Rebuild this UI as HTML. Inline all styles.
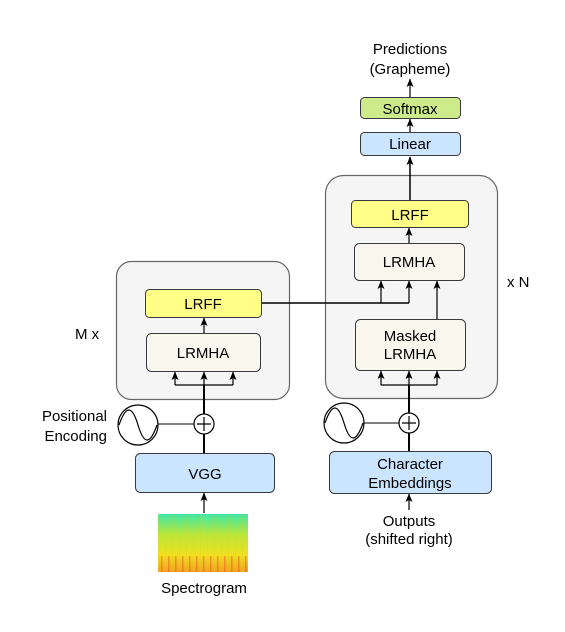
<!DOCTYPE html>
<html><head><meta charset="utf-8"><style>
html,body{margin:0;padding:0;background:#fff;}
svg{display:block;}
text{font-family:"Liberation Sans",Arial,sans-serif;font-size:15px;fill:#000;}
</style></head><body>
<svg width="565" height="632" viewBox="0 0 565 632" xmlns="http://www.w3.org/2000/svg">
<defs>
<marker id="a" markerWidth="9" markerHeight="8" refX="8" refY="4" orient="auto" markerUnits="userSpaceOnUse">
<path d="M0,0.5 L8.5,4 L0,7.5 L2,4 Z" fill="#000"/></marker>
<linearGradient id="sg" x1="0" y1="0" x2="0" y2="1">
<stop offset="0" stop-color="#3fe8a8"/><stop offset="0.35" stop-color="#b8e63a"/><stop offset="0.7" stop-color="#f0e020"/><stop offset="1" stop-color="#f3a020"/></linearGradient>
<pattern id="st" x="158" y="514" width="7" height="58" patternUnits="userSpaceOnUse">
<rect x="0" y="0" width="1" height="58" fill="#d8d020" opacity="0.25"/>
<rect x="3" y="42" width="1.5" height="16" fill="#e05020" opacity="0.45"/></pattern>
</defs>
<rect x="116.5" y="261.5" width="173" height="138" rx="15" fill="#f5f5f5" stroke="#666" stroke-width="1.2"/>
<rect x="325.5" y="175.5" width="172" height="223" rx="18" fill="#f5f5f5" stroke="#666" stroke-width="1.2"/>
<rect x="145.5" y="289.5" width="116" height="28" rx="4" fill="#ffff88" stroke="#36393d"/>
<text x="203" y="309" text-anchor="middle">LRFF</text>
<rect x="146.5" y="333.5" width="114" height="38" rx="5" fill="#f9f7ed" stroke="#36393d"/>
<text x="203" y="358" text-anchor="middle">LRMHA</text>
<line x1="204" y1="333" x2="204" y2="318" stroke="#000" stroke-width="1.2" marker-end="url(#a)"/>
<path d="M204,463 V385" stroke="#000" stroke-width="2" fill="none"/>
<path d="M175,385 H233" stroke="#000" stroke-width="1.2" fill="none"/>
<line x1="175" y1="385" x2="175" y2="372" stroke="#000" stroke-width="1.2" marker-end="url(#a)"/>
<line x1="204" y1="385" x2="204" y2="372" stroke="#000" stroke-width="1.2" marker-end="url(#a)"/>
<line x1="233" y1="385" x2="233" y2="372" stroke="#000" stroke-width="1.2" marker-end="url(#a)"/>
<line x1="158" y1="424" x2="194" y2="424" stroke="#000"/>
<circle cx="138" cy="425" r="20" fill="#fff" stroke="#000" stroke-width="1.2"/>
<path d="M119,425 C126,405 132,405 138,425 C144,445 150,445 157,425" fill="none" stroke="#000" stroke-width="1.2"/>
<circle cx="204" cy="424" r="10" fill="#fff" stroke="#000" stroke-width="1.2"/>
<path d="M197,424 H211 M204,417 V431" stroke="#000" stroke-width="1.2"/>
<rect x="135.5" y="453.5" width="139" height="39" rx="5" fill="#cce5ff" stroke="#36393d"/>
<text x="205" y="479" text-anchor="middle">VGG</text>
<line x1="204" y1="513" x2="204" y2="493" stroke="#000" stroke-width="1.2" marker-end="url(#a)"/>
<rect x="158" y="514" width="90" height="58" fill="url(#sg)"/>
<rect x="158" y="514" width="90" height="58" fill="url(#st)"/>
<text x="204" y="593" text-anchor="middle">Spectrogram</text>
<text x="107" y="421" text-anchor="end">Positional</text>
<text x="107" y="441" text-anchor="end">Encoding</text>
<text x="75" y="339">M x</text>
<path d="M262,303 H409" stroke="#000" stroke-width="1.5" fill="none"/>
<line x1="409" y1="303" x2="409" y2="281" stroke="#000" stroke-width="1.2" marker-end="url(#a)"/>
<line x1="381" y1="303" x2="381" y2="281" stroke="#000" stroke-width="1.2" marker-end="url(#a)"/>
<line x1="437" y1="319" x2="437" y2="281" stroke="#000" stroke-width="1.2" marker-end="url(#a)"/>
<rect x="351.5" y="200.5" width="117" height="27" rx="4" fill="#ffff88" stroke="#36393d"/>
<text x="410" y="220" text-anchor="middle">LRFF</text>
<rect x="354.5" y="243.5" width="110" height="37" rx="5" fill="#f9f7ed" stroke="#36393d"/>
<text x="409" y="267" text-anchor="middle">LRMHA</text>
<line x1="409" y1="243" x2="409" y2="228" stroke="#000" stroke-width="1.2" marker-end="url(#a)"/>
<rect x="355.5" y="319.5" width="110" height="51" rx="5" fill="#f9f7ed" stroke="#36393d"/>
<text x="410" y="341" text-anchor="middle">Masked</text>
<text x="410" y="359" text-anchor="middle">LRMHA</text>
<path d="M409,463 V385" stroke="#000" stroke-width="2" fill="none"/>
<path d="M381,385 H437" stroke="#000" stroke-width="1.2" fill="none"/>
<line x1="381" y1="385" x2="381" y2="371" stroke="#000" stroke-width="1.2" marker-end="url(#a)"/>
<line x1="409" y1="385" x2="409" y2="371" stroke="#000" stroke-width="1.2" marker-end="url(#a)"/>
<line x1="437" y1="385" x2="437" y2="371" stroke="#000" stroke-width="1.2" marker-end="url(#a)"/>
<line x1="364" y1="423" x2="399" y2="423" stroke="#000"/>
<circle cx="344" cy="423" r="20" fill="#fff" stroke="#000" stroke-width="1.2"/>
<path d="M325,423 C332,403 338,403 344,423 C350,443 356,443 363,423" fill="none" stroke="#000" stroke-width="1.2"/>
<circle cx="409" cy="423" r="10" fill="#fff" stroke="#000" stroke-width="1.2"/>
<path d="M402,423 H416 M409,416 V430" stroke="#000" stroke-width="1.2"/>
<rect x="329.5" y="451.5" width="162" height="42" rx="5" fill="#cce5ff" stroke="#36393d"/>
<text x="410" y="469" text-anchor="middle">Character</text>
<text x="410" y="488" text-anchor="middle">Embeddings</text>
<line x1="409" y1="510" x2="409" y2="494" stroke="#000" stroke-width="1.2" marker-end="url(#a)"/>
<text x="409" y="526" text-anchor="middle">Outputs</text>
<text x="409" y="544" text-anchor="middle">(shifted right)</text>
<text x="507" y="287">x N</text>
<line x1="410" y1="200" x2="410" y2="157" stroke="#000" stroke-width="1.5" marker-end="url(#a)"/>
<rect x="360.5" y="132.5" width="100" height="23" rx="4" fill="#cce5ff" stroke="#36393d"/>
<text x="410" y="149" text-anchor="middle">Linear</text>
<line x1="410" y1="132" x2="410" y2="119" stroke="#000" stroke-width="1.2" marker-end="url(#a)"/>
<rect x="360.5" y="97.5" width="100" height="21" rx="4" fill="#cdeb8b" stroke="#36393d"/>
<text x="410" y="114" text-anchor="middle">Softmax</text>
<line x1="410" y1="97" x2="410" y2="79" stroke="#000" stroke-width="1.2" marker-end="url(#a)"/>
<text x="410" y="54" text-anchor="middle">Predictions</text>
<text x="410" y="74" text-anchor="middle">(Grapheme)</text>
</svg>
</body></html>
